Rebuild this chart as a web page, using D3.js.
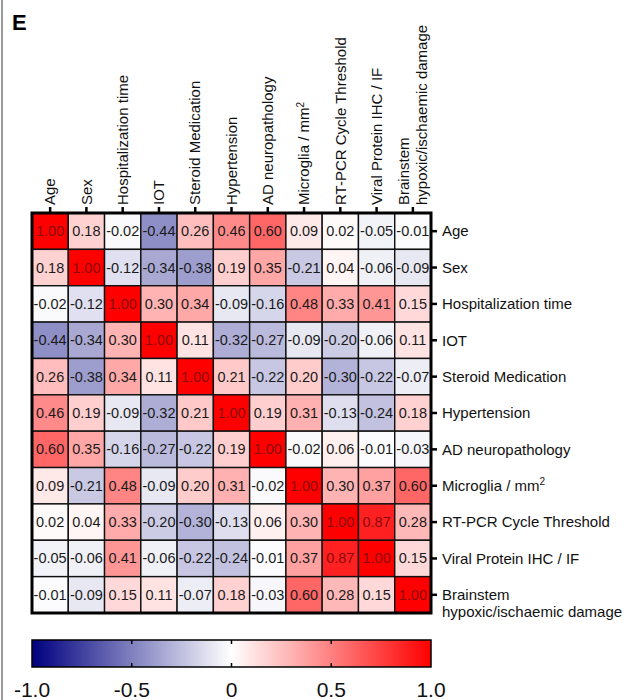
<!DOCTYPE html>
<html>
<head>
<meta charset="utf-8">
<script src="https://cdn.jsdelivr.net/npm/d3@7"></script>
<style>
  html, body { margin: 0; padding: 0; background: #fff; }
  svg { display: block; font-family: "Liberation Sans", Arial, sans-serif; }
</style>
</head>
<body>
<svg id="chart" width="628" height="700"></svg>
<script>
// ---- data ----
const categories = [
  "Age", "Sex", "Hospitalization time", "IOT", "Steroid Medication",
  "Hypertension", "AD neuropathology", "Microglia / mm2",
  "RT-PCR Cycle Threshold", "Viral Protein IHC / IF",
  "Brainstem hypoxic/ischaemic damage"
];
const labelLines = [
  ["Age"], ["Sex"], ["Hospitalization time"], ["IOT"], ["Steroid Medication"],
  ["Hypertension"], ["AD neuropathology"], ["Microglia / mm", "2"],
  ["RT-PCR Cycle Threshold"], ["Viral Protein IHC / IF"],
  ["Brainstem", "hypoxic/ischaemic damage"]
];
const rowAge        = [ 1.00,  0.18, -0.02, -0.44,  0.26,  0.46,  0.60,  0.09,  0.02, -0.05, -0.01];
const rowSex        = [ 0.18,  1.00, -0.12, -0.34, -0.38,  0.19,  0.35, -0.21,  0.04, -0.06, -0.09];
const rowHosp       = [-0.02, -0.12,  1.00,  0.30,  0.34, -0.09, -0.16,  0.48,  0.33,  0.41,  0.15];
const rowIOT        = [-0.44, -0.34,  0.30,  1.00,  0.11, -0.32, -0.27, -0.09, -0.20, -0.06,  0.11];
const rowSteroid    = [ 0.26, -0.38,  0.34,  0.11,  1.00,  0.21, -0.22,  0.20, -0.30, -0.22, -0.07];
const rowHyper      = [ 0.46,  0.19, -0.09, -0.32,  0.21,  1.00,  0.19,  0.31, -0.13, -0.24,  0.18];
const rowAD         = [ 0.60,  0.35, -0.16, -0.27, -0.22,  0.19,  1.00, -0.02,  0.06, -0.01, -0.03];
const rowMicroglia  = [ 0.09, -0.21,  0.48, -0.09,  0.20,  0.31, -0.02,  1.00,  0.30,  0.37,  0.60];
const rowRTPCR      = [ 0.02,  0.04,  0.33, -0.20, -0.30, -0.13,  0.06,  0.30,  1.00,  0.87,  0.28];
const rowViral      = [-0.05, -0.06,  0.41, -0.06, -0.22, -0.24, -0.01,  0.37,  0.87,  1.00,  0.15];
const rowBrainstem  = [-0.01, -0.09,  0.15,  0.11, -0.07,  0.18, -0.03,  0.60,  0.28,  0.15,  1.00];
const matrix = [rowAge, rowSex, rowHosp, rowIOT, rowSteroid, rowHyper, rowAD,
                rowMicroglia, rowRTPCR, rowViral, rowBrainstem];
const colorbarTicks = [-1.0, -0.5, 0, 0.5, 1.0];
const colorbarTickLabels = ["-1.0", "-0.5", "0", "0.5", "1.0"];

// ---- layout ----
const svg = d3.select("#chart");
const mLeft = 32, mRight = 431, mTop = 213, mBottom = 613;

const x = d3.scaleBand().domain(d3.range(categories.length)).range([mLeft, mRight]);
const y = d3.scaleBand().domain(d3.range(categories.length)).range([mTop, mBottom]);
const color = d3.scaleLinear().domain([-1, 0, 1]).range(["#00007f", "#ffffff", "#ff0000"]);

// frame line on left
svg.append("line").attr("x1", 2).attr("x2", 2).attr("y1", 0).attr("y2", 700)
  .attr("stroke", "#9a9a9a").attr("stroke-width", 2);

// panel letter
svg.append("text").attr("x", 12).attr("y", 30)
  .attr("font-size", 22).attr("font-weight", "bold").attr("fill", "#000").text("E");

// cells
const cells = [];
matrix.forEach((row, i) => row.forEach((v, j) => cells.push({i, j, v})));

const g = svg.append("g");
g.selectAll("rect.cell").data(cells).join("rect")
  .attr("class", "cell")
  .attr("x", d => x(d.j)).attr("y", d => y(d.i))
  .attr("width", x.bandwidth()).attr("height", y.bandwidth())
  .attr("fill", d => color(d.v))
  .attr("stroke", "#111").attr("stroke-width", 1.4);

g.selectAll("text.val").data(cells).join("text")
  .attr("class", "val")
  .attr("x", d => x(d.j) + x.bandwidth() / 2)
  .attr("y", d => y(d.i) + y.bandwidth() / 2)
  .attr("text-anchor", "middle").attr("dominant-baseline", "central")
  .attr("font-size", 14.5)
  .attr("fill", d => d.v > 0.8 ? "#8a0a0a" : "#1a1a1a")
  .text(d => d.v.toFixed(2));

// outer border
svg.append("rect").attr("x", mLeft).attr("y", mTop)
  .attr("width", mRight - mLeft).attr("height", mBottom - mTop)
  .attr("fill", "none").attr("stroke", "#000").attr("stroke-width", 3);

// top axis (column labels)
const topAxis = svg.append("g");
categories.forEach((c, j) => {
  const cx = x(j) + x.bandwidth() / 2;
  topAxis.append("line").attr("x1", cx).attr("x2", cx).attr("y1", mTop).attr("y2", mTop - 6)
    .attr("stroke", "#000").attr("stroke-width", 2.5);
  const lines = labelLines[j];
  const t = topAxis.append("text")
    .attr("text-anchor", "start").attr("font-size", 15).attr("fill", "#111")
    .attr("transform", `translate(${cx},205) rotate(-90)`);
  if (lines.length === 1) {
    t.attr("dy", "0.35em").text(lines[0]);
  } else if (lines[1] === "2") {
    t.attr("dy", "0.35em");
    t.append("tspan").text(lines[0]);
    t.append("tspan").attr("dy", "-0.55em").attr("font-size", 10).text("2");
  } else {
    t.append("tspan").attr("x", 0).attr("dy", "-0.25em").text(lines[0]);
    t.append("tspan").attr("x", 0).attr("dy", "1.2em").text(lines[1]);
  }
});

// right axis (row labels)
const rightAxis = svg.append("g");
categories.forEach((c, i) => {
  const cy = y(i) + y.bandwidth() / 2;
  rightAxis.append("line").attr("x1", mRight).attr("x2", mRight + 6).attr("y1", cy).attr("y2", cy)
    .attr("stroke", "#000").attr("stroke-width", 2.5);
  const lines = labelLines[i];
  const t = rightAxis.append("text").attr("x", 442).attr("y", cy)
    .attr("font-size", 15).attr("fill", "#111");
  if (lines.length === 1) {
    t.attr("dy", "0.35em").text(lines[0]);
  } else if (lines[1] === "2") {
    t.attr("dy", "0.35em");
    t.append("tspan").text(lines[0]);
    t.append("tspan").attr("dy", "-0.55em").attr("font-size", 10).text("2");
  } else {
    t.append("tspan").attr("x", 442).attr("dy", "0.35em").text(lines[0]);
    t.append("tspan").attr("x", 442).attr("dy", "1.15em").text(lines[1]);
  }
});

// colorbar
const cbTop = 640, cbBottom = 667;
const cbx = d3.scaleLinear().domain([-1, 1]).range([mLeft, mRight]);
const defs = svg.append("defs");
const grad = defs.append("linearGradient").attr("id", "cbgrad")
  .attr("x1", "0%").attr("x2", "100%").attr("y1", "0%").attr("y2", "0%");
d3.range(0, 1.0001, 0.05).forEach(t => {
  grad.append("stop").attr("offset", (t * 100) + "%").attr("stop-color", color(-1 + 2 * t));
});
svg.append("rect").attr("x", mLeft).attr("y", cbTop)
  .attr("width", mRight - mLeft).attr("height", cbBottom - cbTop)
  .attr("fill", "url(#cbgrad)").attr("stroke", "#000").attr("stroke-width", 1.5);

const cb = svg.append("g");
cb.selectAll("line.tt").data(colorbarTicks.slice(1, -1)).join("line")
  .attr("class", "tt")
  .attr("x1", d => cbx(d)).attr("x2", d => cbx(d)).attr("y1", cbTop).attr("y2", cbTop + 4)
  .attr("stroke", "#000").attr("stroke-width", 1.5);
cb.selectAll("line.tb").data(colorbarTicks.slice(1, -1)).join("line")
  .attr("class", "tb")
  .attr("x1", d => cbx(d)).attr("x2", d => cbx(d)).attr("y1", cbBottom - 4).attr("y2", cbBottom)
  .attr("stroke", "#000").attr("stroke-width", 1.5);
cb.selectAll("text").data(colorbarTicks).join("text")
  .attr("x", d => cbx(d)).attr("y", 697)
  .attr("text-anchor", "middle").attr("font-size", 21).attr("fill", "#111")
  .text((d, i) => colorbarTickLabels[i]);
</script>
</body>
</html>
